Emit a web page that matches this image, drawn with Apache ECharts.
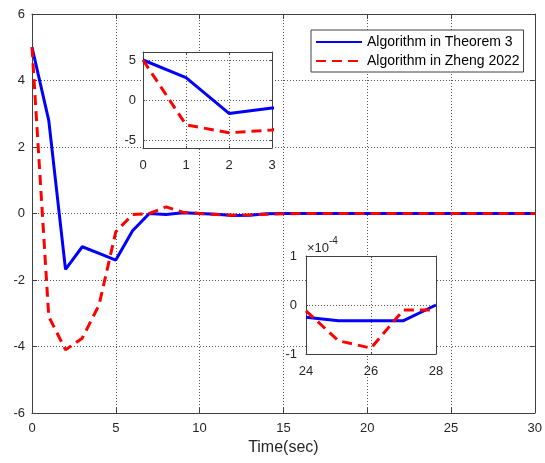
<!DOCTYPE html>
<html><head><meta charset="utf-8">
<script src="https://cdn.jsdelivr.net/npm/echarts@6/dist/echarts.min.js"></script>
<style>html,body{margin:0;padding:0;background:#fff}#c{width:545px;height:463px}</style>
</head><body><div id="c"></div>
<script>
// ---- data ----
const time = [0,1,2,3,4,5,6,7,8,9,10,11,12,13,14,15,16,17,18,19,20,21,22,23,24,25,26,27,28,29,30];
const blueMain = [5,2.8,-1.68,-1.0,-1.2,-1.4,-0.52,0,-0.03,0.02,0,-0.02,-0.06,-0.05,-0.01,0,0,0,0,0,0,0,0,0,0,0,0,0,0,0,0];
const redMain  = [5,-3.1,-4.1,-3.75,-2.75,-0.55,-0.03,0,0.2,0.04,0,-0.03,-0.05,-0.04,-0.02,-0.01,0,0,0,0,0,0,0,0,0,0,0,0,0,0,0];
const zoomTime = [24,25,26,27,28];
const blueZoom = [-0.25,-0.32,-0.32,-0.32,0.0];   // ×10^-4
const redZoom  = [-0.12,-0.73,-0.88,-0.1,-0.1];   // ×10^-4
const seriesNames = ['Algorithm in Theorem 3','Algorithm in Zheng 2022'];
const xLabel = 'Time(sec)';
const inset1XGrid = [1, 2];
const inset1YGrid = [-5, 0, 5];
const zoomExpText = '×10';
const zoomExpPow = '-4';

const FONT = "'Liberation Sans', Arial, Helvetica, sans-serif";
const AX = '#404040';
const TXT = '#262626';
const pairs = (xs, ys) => xs.map((x, i) => [x, ys[i]]);

// inset 1 frame spans y -6..6; its labelled ticks -5..5 live on an inner grid
const in1 = {left: 143, top: 52, width: 129, height: 96};
const grids = [
  {left: 32, top: 14, width: 504, height: 399, z: 0},
  {left: in1.left, top: in1.top, width: in1.width, height: in1.height, z: 1, show: true, backgroundColor: '#fff', borderWidth: 0},
  {left: 306, top: 256, width: 130, height: 98, z: 1, show: true, backgroundColor: '#fff', borderWidth: 0},
  {left: in1.left, top: in1.top + in1.height / 12, width: in1.width, height: in1.height * 10 / 12, z: 10}
];
const GL_STYLE = {color: '#555', type: [1, 2], width: 1};
const gridLine = () => ({show: true, lineStyle: Object.assign({}, GL_STYLE)});

function mkX(grid, min, max, interval, opts, split) {
  const z = grid === 0 ? 0 : 10;
  const tl = grid === 0 ? 5 : 2;
  return [
    Object.assign({type: 'value', gridIndex: grid, position: 'bottom', min, max, interval, z,
      axisLine: {show: true, onZero: false, lineStyle: {color: AX, width: 1}},
      axisTick: {show: true, inside: true, length: tl, lineStyle: {color: AX}},
      axisLabel: {show: true, color: TXT, fontSize: 13, fontFamily: FONT, margin: grid === 0 ? 9 : 11},
      splitLine: split === false ? {show: false} : gridLine()
    }, opts || {}),
    {type: 'value', gridIndex: grid, position: 'top', min, max, interval, z,
      axisLine: {show: true, onZero: false, lineStyle: {color: AX, width: 1}},
      axisTick: {show: true, inside: true, length: tl, lineStyle: {color: AX}},
      axisLabel: {show: false}, splitLine: {show: false}}
  ];
}
function mkY(grid, min, max, interval, opts) {
  const z = grid === 0 ? 0 : 10;
  const tl = grid === 0 ? 5 : 2;
  const o = opts || {};
  const left = {type: 'value', gridIndex: grid, position: 'left', min, max, interval, z,
      axisLine: {show: o.line !== false, onZero: false, lineStyle: {color: AX, width: 1}},
      axisTick: {show: o.ticks !== false, inside: true, length: tl, lineStyle: {color: AX}},
      axisLabel: {show: o.labels !== false, color: TXT, fontSize: 13, fontFamily: FONT, margin: grid === 2 ? 9 : 7},
      splitLine: o.split === false ? {show: false} : gridLine()};
  const right = {type: 'value', gridIndex: grid, position: 'right', min, max, interval, z,
      axisLine: {show: o.line !== false, onZero: false, lineStyle: {color: AX, width: 1}},
      axisTick: {show: o.ticks !== false, inside: true, length: tl, lineStyle: {color: AX}},
      axisLabel: {show: false}, splitLine: {show: false}};
  return [left, right];
}

const xAxes = [
  ...mkX(0, 0, 30, 5, {name: xLabel, nameLocation: 'middle', nameGap: 25,
      nameTextStyle: {fontSize: 16, color: TXT, fontFamily: FONT}}),
  ...mkX(1, 0, 3, 1, null, false),
  ...mkX(2, 24, 28, 2),
  {type: 'value', gridIndex: 3, min: 0, max: 3, show: false}
];
const yAxes = [
  ...mkY(0, -6, 6, 2),
  ...mkY(1, -6, 6, 12, {labels: false, ticks: false, split: false}),
  ...mkY(2, -1, 1, 1),
  ...mkY(3, -5, 5, 5, {line: false, split: false})
];

function lineSeries(name, data, xi, yi, dashed, z) {
  return {
    name, type: 'line', data, xAxisIndex: xi, yAxisIndex: yi, z,
    symbol: 'none', showSymbol: false, clip: true, animation: false,
    lineStyle: {color: dashed ? '#ff0000' : '#0000ff', width: 3, type: dashed ? [10, 6] : 'solid'},
    itemStyle: {color: dashed ? '#ff0000' : '#0000ff'}
  };
}

// inset 1 blue series carries the inset's gridlines as markLines (through its own scales)
const inset1Blue = lineSeries(seriesNames[0], pairs(time, blueMain), 2, 2, false, 11);
inset1Blue.markLine = {
  silent: true, animation: false, symbol: ['none', 'none'], label: {show: false},
  lineStyle: Object.assign({}, GL_STYLE), emphasis: {disabled: true},
  data: [...inset1XGrid.map(v => ({xAxis: v})), ...inset1YGrid.map(v => ({yAxis: v}))]
};

const series = [
  lineSeries(seriesNames[0], pairs(time, blueMain), 0, 0, false, 2),
  lineSeries(seriesNames[1], pairs(time, redMain), 0, 0, true, 3),
  inset1Blue,
  lineSeries(seriesNames[1], pairs(time, redMain), 2, 2, true, 12),
  lineSeries(seriesNames[0], pairs(zoomTime, blueZoom), 4, 4, false, 11),
  lineSeries(seriesNames[1], pairs(zoomTime, redZoom), 4, 4, true, 12)
];

const chart = echarts.init(document.getElementById('c'), null, {renderer: 'canvas'});
chart.setOption({
  animation: false,
  backgroundColor: '#fff',
  grid: grids,
  xAxis: xAxes,
  yAxis: yAxes,
  series,
  legend: {
    data: seriesNames, orient: 'vertical', left: 311, top: 30,
    itemWidth: 46, itemHeight: 14, itemGap: 5, padding: [5, 4, 4, 4],
    backgroundColor: '#fff', borderColor: AX, borderWidth: 1, borderRadius: 0,
    textStyle: {fontSize: 14, color: '#000', fontFamily: FONT},
    itemStyle: {opacity: 0},
    z: 20
  },
  graphic: [
    {type: 'text', left: 307, top: 242, z: 20,
      style: {text: zoomExpText, fontSize: 13, fontFamily: FONT, fill: TXT}},
    {type: 'text', left: 329, top: 236, z: 20,
      style: {text: zoomExpPow, fontSize: 10, fontFamily: FONT, fill: TXT}}
  ]
});
</script></body></html>
